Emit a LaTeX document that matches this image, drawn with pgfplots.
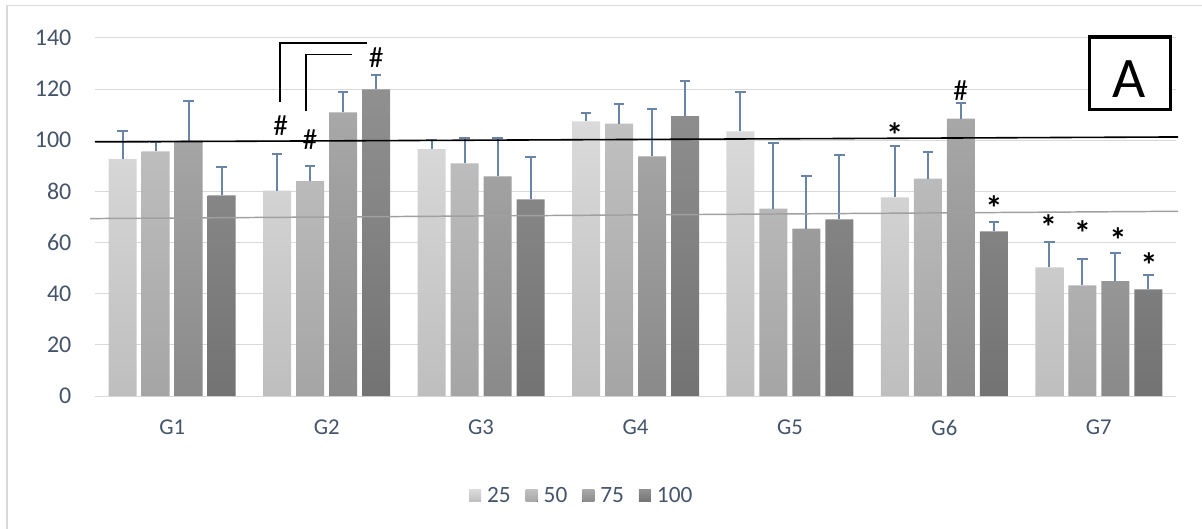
\documentclass[border=0pt]{standalone}
\usepackage{fontspec}
\setmainfont{Carlito}
\usepackage{pgfplots}
\usepackage{pgfplotstable}
\pgfplotsset{compat=1.18}
\definecolor{txt}{HTML}{44546A}
\definecolor{grd}{HTML}{D9D9D9}
\definecolor{errc}{HTML}{6A84A8}
\definecolor{aT}{HTML}{DADADA}\definecolor{aB}{HTML}{BEBEBE}
\definecolor{bT}{HTML}{C0C0C0}\definecolor{bB}{HTML}{A5A5A5}
\definecolor{cT}{HTML}{A8A8A8}\definecolor{cB}{HTML}{8A8A8A}
\definecolor{dT}{HTML}{909090}\definecolor{dB}{HTML}{737373}
\definecolor{refgray}{HTML}{A0A0A0}

\pgfplotstableread{
x x1 x2 x3 x4 v1 e1 v2 e2 v3 e3 v4 e4
0 -0.3206 -0.1069 0.1069 0.3206 92.6 11.0 95.7 3.8 99.9 15.6 78.5 11.1
1 0.6794 0.8931 1.1069 1.3206 80.3 14.5 84.0 6.1 110.9 8.0 119.9 5.5
2 1.6794 1.8931 2.1069 2.3206 96.5 3.5 91.0 10.0 85.9 15.1 76.9 16.6
3 2.6794 2.8931 3.1069 3.3206 107.4 3.3 106.5 7.6 93.7 18.7 109.4 13.7
4 3.6794 3.8931 4.1069 4.3206 103.5 15.5 73.3 25.6 65.5 20.7 69.1 25.0
5 4.6794 4.8931 5.1069 5.3206 77.7 20.2 85.0 10.6 108.5 6.2 64.4 3.5
6 5.6794 5.8931 6.1069 6.3206 50.3 9.9 43.3 10.2 44.9 11.2 41.7 5.5
}\data

\pgfplotsset{errplot/.style={draw=none, mark=none, forget plot,
  error bars/.cd, y dir=plus, y explicit, error mark=|,
  error bar style={draw=errc, line width=1.5pt},
  error mark options={draw=errc, line width=1.5pt, mark size=4pt}}}

\begin{document}
\begin{tikzpicture}
\useasboundingbox (-71.25pt,-99pt) rectangle (830.25pt,297pt);
\draw[grd, line width=1pt] (-66pt,-120pt) -- (-66pt,293pt) -- (850pt,293pt);
\begin{axis}[
  at={(0pt,0pt)}, anchor=south west,
  scale only axis, width=810.75pt, height=268.5pt,
  xmin=-0.5, xmax=6.5, ymin=0, ymax=140,
  xtick={0,...,6}, xticklabels={G1,G2,G3,G4,G5,G6,G7},
  ytick={0,20,...,140},
  ymajorgrids, grid style={grd, line width=0.75pt},
  axis line style={draw=none},
  major tick length=0pt,
  /pgf/number format/assume math mode=true,
  tick label style={text=txt},
  yticklabel style={font=\fontsize{18}{20}\selectfont, anchor=east, inner sep=0pt, xshift=-17.5pt},
  xticklabel style={font=\fontsize{17}{19}\selectfont, anchor=north, inner sep=0pt, yshift=-18pt},
  clip=false,
  legend columns=4,
  legend style={at={(0.346,-0.2793)}, anchor=west, draw=none, fill=none,
    inner sep=0pt, outer sep=0pt, font=\fontsize{17.5}{19}\selectfont, text=txt,
    nodes={inner sep=0pt},
    /tikz/every odd column/.append style={column sep=4.5pt},
    /tikz/every even column/.append style={column sep=11.25pt}},
  legend image code/.code={\fill[#1] (0pt,-4.5pt) rectangle (9pt,4.5pt);},
]
\addplot[ybar, bar width=21pt, bar shift=-37.125pt, draw=none, top color=aT, bottom color=aB] table[x=x, y=v1] {\data};
\addplot[ybar, bar width=21pt, bar shift=-12.375pt, draw=none, top color=bT, bottom color=bB] table[x=x, y=v2] {\data};
\addplot[ybar, bar width=21pt, bar shift=12.375pt, draw=none, top color=cT, bottom color=cB] table[x=x, y=v3] {\data};
\addplot[ybar, bar width=21pt, bar shift=37.125pt, draw=none, top color=dT, bottom color=dB] table[x=x, y=v4] {\data};
\legend{25,50,75,100}
% error bars
\addplot[errplot] table[x=x1, y=v1, y error=e1] {\data};
\addplot[errplot] table[x=x2, y=v2, y error=e2] {\data};
\addplot[errplot] table[x=x3, y=v3, y error=e3] {\data};
\addplot[errplot] table[x=x4, y=v4, y error=e4] {\data};
% reference lines
\addplot[black, line width=1.2pt, forget plot] coordinates {(-0.5,99.35) (6.513,101.3)};
\addplot[refgray, line width=1.1pt, forget plot] coordinates {(-0.532,69.38) (6.513,72.23)};
% brackets
\addplot[black, line width=1.1pt, forget plot] coordinates {(0.698,114.98) (0.698,138.05) (1.261,138.05)};
\addplot[black, line width=1.1pt, forget plot] coordinates {(0.866,111.3) (0.866,133.5) (1.164,133.5)};
% marks
\begin{scope}[every node/.style={font=\fontsize{22}{24}\selectfont, inner sep=0pt}]
\node at (axis cs:0.702,105.9) {\#};
\node at (axis cs:0.892,100.4) {\#};
\node at (axis cs:1.32,132.3) {\#};
\node at (axis cs:5.106,119.4) {\#};
\end{scope}
\begin{scope}[every node/.style={font=\bfseries\fontsize{26}{28}\selectfont, inner sep=0pt, yshift=-4pt}]
\node at (axis cs:4.678,104.3) {*};
\node at (axis cs:5.321,75.6) {*};
\node at (axis cs:5.675,68.3) {*};
\node at (axis cs:5.895,65.8) {*};
\node at (axis cs:6.124,63.0) {*};
\node at (axis cs:6.325,53.1) {*};
\end{scope}
\draw[black, line width=2.5pt, fill=white] (axis cs:5.941,112.1) rectangle (axis cs:6.463,140.4);
\node[font=\fontsize{43}{45}\selectfont, inner sep=0pt] at (axis cs:6.196,124.1) {A};
\end{axis}
\end{tikzpicture}
\end{document}
